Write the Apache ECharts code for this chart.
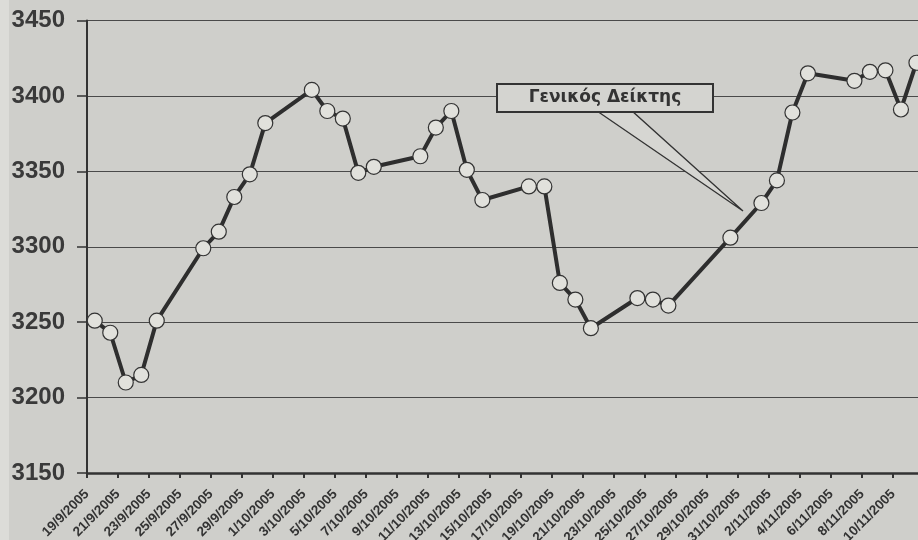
<!DOCTYPE html>
<html>
<head>
<meta charset="utf-8">
<script src="https://cdn.jsdelivr.net/npm/echarts@6/dist/echarts.min.js"></script>
<style>
html,body{margin:0;padding:0;background:#cfcfcb;}
#chart{width:918px;height:540px;}
</style>
</head>
<body>
<div id="chart"></div>
<script>
// Trading dates (as printed on the chart) and General Index closing values
const dates = ['2005-09-19','2005-09-20','2005-09-21','2005-09-22','2005-09-23',
  '2005-09-26','2005-09-27','2005-09-28','2005-09-29','2005-09-30',
  '2005-10-03','2005-10-04','2005-10-05','2005-10-06','2005-10-07',
  '2005-10-10','2005-10-11','2005-10-12','2005-10-13','2005-10-14',
  '2005-10-17','2005-10-18','2005-10-19','2005-10-20','2005-10-21',
  '2005-10-24','2005-10-25','2005-10-26','2005-10-30',
  '2005-11-01','2005-11-02','2005-11-03','2005-11-04',
  '2005-11-07','2005-11-08','2005-11-09','2005-11-10','2005-11-11'];
const values = [3251,3243,3210,3215,3251,
  3299,3310,3333,3348,3382,
  3404,3390,3385,3349,3353,
  3360,3379,3390,3351,3331,
  3340,3340,3276,3265,3246,
  3266,3265,3261,3306,
  3329,3344,3389,3415,
  3410,3416,3417,3391,3422];
const yTicks = [3150,3200,3250,3300,3350,3400,3450];
// tick labels every 2 days from 19/9/2005 to 10/11/2005
const xTickDates = ['2005-09-19','2005-09-21','2005-09-23','2005-09-25','2005-09-27','2005-09-29',
  '2005-10-01','2005-10-03','2005-10-05','2005-10-07','2005-10-09','2005-10-11','2005-10-13',
  '2005-10-15','2005-10-17','2005-10-19','2005-10-21','2005-10-23','2005-10-25','2005-10-27',
  '2005-10-29','2005-10-31','2005-11-02','2005-11-04','2005-11-06','2005-11-08','2005-11-10'];
const seriesName = 'Γενικός Δείκτης';

const startDate = Date.UTC(2005,8,19);
const DAY = 86400000;
function dayIndex(s){const p=s.split('-');return Math.round((Date.UTC(+p[0],+p[1]-1,+p[2])-startDate)/DAY);}
// each day's point sits in the middle of its day slot
const points = dates.map((d,i)=>[dayIndex(d)+0.5, values[i]]);
const xTicks = xTickDates.map(dayIndex);

const BG = '#cfcfcb';
const chart = echarts.init(document.getElementById('chart'));
chart.setOption({
  backgroundColor: BG,
  animation: false,
  grid: {left: 87, top: 20.5, bottom: 67, right: 0, containLabel: false, outerBoundsMode: 'none'},
  xAxis: {
    type: 'value', min: 0, max: 53.6,
    axisLine: {show: true, onZero: false, lineStyle: {color: '#333', width: 2.5}},
    axisTick: {show: true, length: 5, customValues: xTicks, lineStyle: {color: '#333', width: 2}},
    splitLine: {show: false},
    axisLabel: {
      customValues: xTicks,
      rotate: 45, margin: 19, fontSize: 13.5, fontWeight: 'bold',
      align: 'right', verticalAlign: 'middle',
      fontFamily: 'Liberation Sans', color: '#333',
      formatter: function(v){
        const d = new Date(startDate + Math.round(v)*DAY);
        return d.getUTCDate() + '/' + (d.getUTCMonth()+1) + '/' + d.getUTCFullYear();
      }
    }
  },
  yAxis: {
    type: 'value', min: yTicks[0], max: yTicks[yTicks.length-1], interval: 50,
    axisLine: {show: true, onZero: false, lineStyle: {color: '#333', width: 2}},
    axisTick: {show: true, length: 10, lineStyle: {color: '#333', width: 1.5}},
    splitLine: {show: true, lineStyle: {color: '#4a4a4a', width: 1.2}},
    axisLabel: {margin: 22, fontSize: 24, fontWeight: 'bold', fontFamily: 'Liberation Sans', color: '#3a3a3a',
      formatter: function(v){return String(v);}}
  },
  series: [{
    name: seriesName,
    type: 'line',
    data: points,
    symbol: 'circle',
    symbolSize: 15,
    itemStyle: {color: '#e1e1dc', borderColor: '#333', borderWidth: 1.2},
    lineStyle: {color: '#2e2e2e', width: 4},
    z: 3
  }],
  graphic: [
    {type: 'rect', shape: {x: 0, y: 0, width: 9, height: 540}, style: {fill: '#dcdcd8'}, z: -1, silent: true},
    {type: 'polygon', shape: {points: [[597,111],[743,211],[632,111]]},
     style: {fill: '#d6d6d2', stroke: '#333', lineWidth: 1.3}, z: 10},
    {type: 'rect', shape: {x: 497, y: 84, width: 216, height: 28},
     style: {fill: '#d4d4d0', stroke: '#333', lineWidth: 2}, z: 11},
    {type: 'text', x: 605, y: 98, z: 12,
     style: {text: seriesName, fontSize: 17, fontWeight: 'bold', fontFamily: 'DejaVu Sans',
             fill: '#333', align: 'center', verticalAlign: 'middle'}}
  ]
});
</script>
</body>
</html>
